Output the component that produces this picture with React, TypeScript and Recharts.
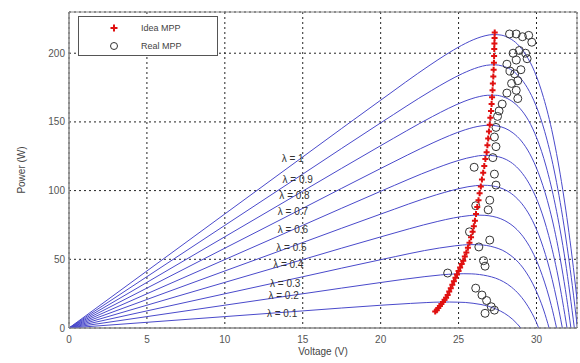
import React from "react";
import {
  ComposedChart,
  Line,
  Scatter,
  XAxis,
  YAxis,
  CartesianGrid,
  ReferenceArea,
  Legend,
} from "recharts";

// P-V curves, one per irradiance level (voltage V, power W)
const CURVE_L10 = [[0,0],[5,41.5],[10,83],[15,124.5],[20,165.8],[23.17,191.4],[24.18,198.9],[25.18,205.6],[26.19,210.9],[26.7,212.7],[27.22,213.6],[27.73,213.2],[28.25,211.0],[28.78,206.6],[29.32,198.8],[29.88,186.5],[30.45,167.8],[31.05,140.5],[31.68,101.0],[32.22,57.6],[32.8,0]];
const CURVE_L09 = [[0,0],[5,37.35],[10,74.7],[15,112],[20,149.3],[23.26,172.8],[24.26,179.4],[25.27,185.3],[26.28,189.8],[26.79,191.2],[27.3,191.6],[27.81,190.7],[28.34,188.2],[28.87,183.2],[29.41,174.9],[29.96,162.1],[30.53,142.9],[31.13,115.0],[31.76,74.9],[32.3,30.9],[32.63,0]];
const CURVE_L08 = [[0,0],[5,33.2],[10,66.4],[15,99.6],[20,132.7],[23.34,154.0],[24.34,159.8],[25.35,164.9],[26.36,168.5],[26.87,169.4],[27.38,169.4],[27.9,168.1],[28.42,165.1],[28.95,159.7],[29.49,151.0],[30.04,137.6],[30.61,117.9],[31.21,89.4],[31.85,48.7],[32.43,0]];
const CURVE_L07 = [[0,0],[5,29.05],[10,58.1],[15,87.1],[20,116.1],[23.42,135.1],[24.43,140.1],[25.43,144.3],[26.44,147.1],[26.95,147.6],[27.46,147.1],[27.98,145.4],[28.5,141.9],[29.03,136.1],[29.57,126.8],[30.12,113.0],[30.7,92.7],[31.3,63.7],[31.93,22.3],[32.21,0]];
const CURVE_L06 = [[0,0],[5,24.9],[10,49.8],[15,74.7],[20,99.5],[23.51,116.1],[24.51,120.2],[25.52,123.6],[26.02,124.8],[26.53,125.6],[27.04,125.6],[27.55,124.7],[28.06,122.6],[28.59,118.6],[29.11,112.3],[29.65,102.6],[30.21,88.2],[30.78,67.4],[31.38,37.8],[31.96,0]];
const CURVE_L05 = [[0,0],[5,20.75],[10,41.5],[15,62.2],[20,82.9],[23.59,97.0],[24.59,100.2],[25.6,102.8],[26.1,103.6],[26.61,103.9],[27.12,103.5],[27.63,102.2],[28.15,99.6],[28.67,95.2],[29.2,88.4],[29.74,78.2],[30.29,63.3],[30.86,42.0],[31.46,11.8],[31.66,0]];
const CURVE_L04 = [[0,0],[5,16.6],[10,33.2],[15,49.8],[20,66.3],[23.67,77.6],[24.68,80.1],[25.68,81.8],[26.19,82.2],[26.69,82.0],[27.2,81.2],[27.71,79.5],[28.23,76.4],[28.75,71.6],[29.28,64.3],[29.82,53.6],[30.37,38.3],[30.95,16.4],[31.29,0]];
const CURVE_L03 = [[0,0],[5,12.45],[10,24.9],[15,37.3],[20,49.7],[23.76,58.2],[24.76,59.8],[25.26,60.4],[25.76,60.7],[26.27,60.6],[26.78,60.1],[27.28,58.8],[27.8,56.7],[28.31,53.1],[28.83,47.9],[29.36,40.1],[29.9,29.0],[30.46,13.1],[30.81,0]];
const CURVE_L02 = [[0,0],[5,8.3],[10,16.6],[15,24.9],[20,33.1],[22.84,37.4],[23.84,38.6],[24.84,39.4],[25.34,39.5],[25.85,39.4],[26.35,38.9],[26.86,37.9],[27.37,36.3],[27.88,33.7],[28.4,29.7],[28.92,24.0],[29.45,15.8],[29.99,4.2],[30.14,0]];
const CURVE_L01 = [[0,0],[5,4.15],[10,8.3],[15,12.45],[20,16.55],[21.92,17.9],[22.92,18.5],[23.92,18.9],[24.42,18.9],[24.92,18.8],[25.43,18.6],[25.93,18.0],[26.44,17.1],[26.94,15.7],[27.45,13.6],[27.96,10.6],[28.48,6.2],[29.0,0]];

const CURVES = [CURVE_L10, CURVE_L09, CURVE_L08, CURVE_L07, CURVE_L06, CURVE_L05, CURVE_L04, CURVE_L03, CURVE_L02, CURVE_L01];

// ideal MPP locus (red +)
const IDEAL_MPP = [[23.5,12],[23.6,13],[23.7,14.5],[23.8,16],[23.9,17.5],[24.0,19],[24.1,20.5],[24.2,22],[24.3,24],[24.4,26.5],[24.5,29],[24.6,31.5],[24.7,34],[24.8,36.5],[24.9,39],[25.0,41.5],[25.1,44],[25.2,46.5],[25.3,49],[25.4,52],[25.5,55],[25.6,58.5],[25.7,62],[25.8,66],[25.9,70],[25.98,74],[26.05,78],[26.12,83],[26.2,88],[26.28,93],[26.35,98],[26.43,103],[26.5,108],[26.58,113],[26.65,118],[26.72,123],[26.8,128],[26.85,133],[26.9,138],[26.95,143],[27.0,148],[27.04,153],[27.08,158],[27.12,163],[27.15,168],[27.18,173],[27.2,178],[27.23,183],[27.25,188],[27.27,193],[27.28,198],[27.29,203],[27.3,207],[27.31,211],[27.32,215]];

// tracked MPP (black circles)
const REAL_MPP = [[28.27,214],[28.7,214],[29.1,212],[29.5,213],[29.7,208],[29.3,200],[29.4,196],[28.9,202],[28.5,200],[28.7,195],[29.0,188],[28.1,192],[28.3,187],[28.6,185],[28.8,180],[28.4,178],[28.7,173],[28.1,171],[28.8,167],[27.8,163],[27.6,158],[27.5,154],[27.4,146],[27.3,139],[27.4,132],[27.2,124],[26.0,117],[27.3,112],[27.4,104],[26.1,89],[27.0,93],[26.9,86],[25.7,70],[27.0,64],[26.3,59],[26.6,49],[26.7,45],[24.3,40],[26.1,29],[26.5,24],[26.8,20],[27.1,15.5],[26.7,10.7],[27.3,13]];

const LAMBDA_LABELS = [
  { v: 13.65, p: 123.5, text: "λ = 1" },
  { v: 13.7, p: 108.3, text: "λ = 0.9" },
  { v: 13.5, p: 96.7, text: "λ = 0.8" },
  { v: 13.4, p: 85.0, text: "λ = 0.7" },
  { v: 13.4, p: 71.9, text: "λ = 0.6" },
  { v: 13.3, p: 58.9, text: "λ = 0.5" },
  { v: 13.1, p: 46.5, text: "λ = 0.4" },
  { v: 12.9, p: 32.7, text: "λ = 0.3" },
  { v: 12.8, p: 23.3, text: "λ = 0.2" },
  { v: 12.7, p: 10.9, text: "λ = 0.1" },
];

const X_TICKS = [0, 5, 10, 15, 20, 25, 30];
const Y_TICKS = [0, 50, 100, 150, 200];

const toPts = (arr: number[][]) => arr.map(([v, p]) => ({ v, p }));

const FONT = "'Liberation Sans', Arial, sans-serif";
const BLUE = "#4a4acb";

const PlusShape = (props: any) => {
  const { cx, cy } = props;
  if (cx == null || cy == null) return null;
  return (
    <path
      d={`M${cx - 3},${cy}H${cx + 3}M${cx},${cy - 3}V${cy + 3}`}
      stroke="#e01010"
      strokeWidth={2}
    />
  );
};

const CircleShape = (props: any) => {
  const { cx, cy } = props;
  if (cx == null || cy == null) return null;
  return <circle cx={cx} cy={cy} r={4} fill="none" stroke="#333" strokeWidth={1} />;
};

const LabelShape = (props: any) => {
  const { cx, cy, payload } = props;
  if (cx == null || cy == null) return null;
  return (
    <text x={cx} y={cy} dy="0.35em" fontSize={10} fontFamily={FONT} fill="#333">
      {payload.text}
    </text>
  );
};

const LegendBox = () => (
  <div
    style={{
      width: 140,
      height: 40,
      boxSizing: "border-box",
      border: "1px solid #555",
      background: "#fff",
      fontFamily: FONT,
      fontSize: 9,
      color: "#444",
      position: "relative",
    }}
  >
    <svg width={138} height={38} style={{ position: "absolute", left: 0, top: 0 }}>
      <path d="M31.5,11H38.5M35,7.5V14.5" stroke="#e01010" strokeWidth={2} />
      <circle cx={35} cy={29} r={3.5} fill="none" stroke="#333" />
      <text x={62} y={11} dy="0.35em" fontSize={9} fill="#444">Idea MPP</text>
      <text x={62} y={29} dy="0.35em" fontSize={9} fill="#444">Real MPP</text>
    </svg>
  </div>
);

export default function App() {
  return (
    <div style={{ position: "absolute", left: 0, top: 0, background: "#fff" }}>
      <ComposedChart
        width={580}
        height={363}
        margin={{ top: 12, right: 3, left: 0, bottom: 0 }}
      >
        <CartesianGrid stroke="#222" strokeDasharray="2 3" strokeWidth={1} />
        <XAxis
          dataKey="v"
          type="number"
          domain={[0, 32.6]}
          ticks={X_TICKS}
          allowDataOverflow
          height={35}
          tickLine={false}
          tickSize={4}
          tickMargin={4}
          axisLine={{ stroke: "#888" }}
          tick={{ fontSize: 10, fill: "#555", fontFamily: FONT }}
          label={{
            content: (p: any) => {
              const vb = p.viewBox || { x: 69, y: 328, width: 508 };
              return (
                <text x={vb.x + vb.width / 2} y={vb.y + 27} textAnchor="middle" fontSize={10} fontFamily={FONT} fill="#444">
                  Voltage (V)
                </text>
              );
            },
          }}
        />
        <YAxis
          dataKey="p"
          type="number"
          domain={[0, 230]}
          ticks={Y_TICKS}
          allowDataOverflow
          width={69}
          tickLine={false}
          tickSize={4}
          tickMargin={0}
          axisLine={{ stroke: "#888" }}
          tick={{ fontSize: 10, fill: "#555", fontFamily: FONT }}
          label={{
            content: (p: any) => {
              const vb = p.viewBox || { x: 0, y: 12, height: 316 };
              const x = vb.x + 21;
              const y = vb.y + vb.height / 2;
              return (
                <text x={x} y={y} transform={`rotate(-90 ${x} ${y})`} textAnchor="middle" dy="0.35em" fontSize={10} fontFamily={FONT} fill="#444">
                  Power (W)
                </text>
              );
            },
          }}
        />
        <ReferenceArea x1={0} x2={32.6} y1={0} y2={230} fill="none" stroke="#888" strokeWidth={1} ifOverflow="visible" />
        {CURVES.map((c, i) => (
          <Line
            key={i}
            data={toPts(c)}
            dataKey="p"
            type="monotone"
            stroke={BLUE}
            strokeWidth={1}
            dot={false}
            activeDot={false}
            legendType="none"
            isAnimationActive={false}
          />
        ))}
        <Scatter data={LAMBDA_LABELS} dataKey="p" shape={LabelShape} legendType="none" isAnimationActive={false} />
        <Scatter data={toPts(REAL_MPP)} dataKey="p" shape={CircleShape} legendType="none" isAnimationActive={false} />
        <Scatter data={toPts(IDEAL_MPP)} dataKey="p" shape={PlusShape} legendType="none" isAnimationActive={false} />
        <Legend
          layout="vertical"
          align="center"
          verticalAlign="middle"
          content={() => <LegendBox />}
          wrapperStyle={{ left: 78, top: 16, width: 140, height: 40 }}
        />
      </ComposedChart>
    </div>
  );
}
